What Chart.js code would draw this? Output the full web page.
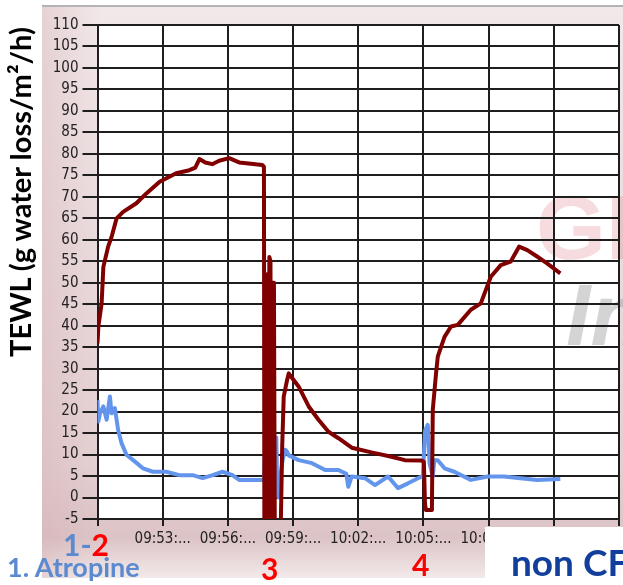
<!DOCTYPE html>
<html>
<head>
<meta charset="utf-8">
<script src="https://cdn.jsdelivr.net/npm/chart.js@4"></script>
<style>
  body { margin: 0; background: #fff; }
  #wrap { position: relative; width: 623px; height: 585px; overflow: hidden; }
  #chart { position: absolute; left: 0; top: 0; }
  .lbl { position: absolute; font-family: Lato, 'Noto Sans', sans-serif; font-weight: bold; white-space: nowrap; }
  #ytitle { left: -180px; top: 177px; width: 400px; height: 30px; line-height: 30px; text-align: center;
            transform: rotate(-90deg); font-size: 29px; color: #000; }
  #whitebox { position: absolute; left: 485px; top: 527px; width: 140px; height: 60px; background: #fff; }
</style>
</head>
<body>
<div id="wrap">
  <canvas id="chart" width="623" height="585"></canvas>
  <div class="lbl" id="ytitle">TEWL (g water loss/m²/h)</div>
  <div class="lbl" style="left:63px; top:526px; font-size:30px; color:#5a8ad0;">1-<span style="color:#ff0000">2</span></div>
  <div class="lbl" style="left:7px; top:550px; font-size:27px; color:#5a8ad0;">1. Atropine</div>
  <div class="lbl" style="left:261px; top:550px; font-size:30px; color:#ff0000;">3</div>
  <div class="lbl" style="left:412px; top:546px; font-size:30px; color:#ff0000;">4</div>
  <div id="whitebox"></div>
  <div class="lbl" style="left:511px; top:539px; font-size:37px; color:#123f9c;">non CF</div>
</div>
<script>
// minutes after 09:50
const redTime = [0, 0.04, 0.19, 0.27, 0.49, 0.65, 0.88, 1.18, 1.79, 2.25, 2.86, 3.62, 4.23, 4.50, 4.69, 4.96, 5.28, 5.60, 6.06,
  6.52, 7.06, 7.58, 7.66,
  7.68, 7.77, 7.80, 7.84, 7.91, 7.96, 8.00, 8.07, 8.12, 8.16, 8.34, 8.44, 8.50, 8.57, 8.71, 8.80, 8.89, 9.26, 9.72, 10.17,
  10.63, 11.09, 11.70, 12.61, 13.53, 14.14, 14.90, 15.02, 15.07, 15.11, 15.39, 15.43, 15.58, 15.66, 15.97, 16.27, 16.58,
  17.18, 17.64, 18.10, 18.56, 19.01, 19.40, 19.78, 20.23, 20.69, 21.30];
const redTewl = [35.9, 39.8, 45.2, 53.7, 58.4, 60.7, 65.0, 66.5, 68.5, 70.8, 73.5, 75.5, 76.2, 76.8, 78.8, 78.0, 77.6, 78.4, 79.0,
  78.0, 77.7, 77.4, 77.0,
  -8, -8, 52, -8, 56, 55, -8, 50, 50, -8, -8, -5, 11.8, 23.5, 27, 28.9, 28.3, 25.8, 21.2, 18.1,
  15.3, 13.8, 11.6, 10.5, 9.5, 8.7, 8.6, 8.3, -1.3, -2.9, -2.9, 20.4, 28.9, 32.8, 37.4, 39.8, 40.2,
  43.7, 45.2, 51.4, 54.1, 54.9, 58.4, 57.6, 56.1, 54.5, 52.2];

const blueTime = [0, 0.04, 0.11, 0.27, 0.42, 0.57, 0.65, 0.80, 0.95, 1.11, 1.34, 1.64, 2.09, 2.55, 3.16, 3.77, 4.38, 4.84, 5.30,
  5.76, 6.21, 6.52, 7.58, 7.66, 7.71, 7.75, 7.82, 7.89, 7.96, 8.00, 8.07, 8.16, 8.23, 8.27, 8.34, 8.44, 8.53, 8.65, 8.72,
  8.80, 9.26, 9.87, 10.48, 11.09, 11.45, 11.54, 11.70, 12.31, 12.77, 13.37, 13.83, 14.29, 14.75, 14.97, 15.08, 15.20, 15.28,
  15.43, 15.50, 15.66, 15.97, 16.42, 17.18, 17.95, 18.71, 19.47, 20.23, 21.30];
const blueTewl = [22.7, 17.7, 19.5, 21.2, 18.1, 23.5, 19.6, 20.8, 15.7, 12.6, 9.9, 8.7, 6.8, 6.0, 6.0, 5.2, 5.2, 4.5, 5.2,
  6.0, 5.2, 4.1, 4.1, 4.1, 10, 4, 12, 22, 18, 10, 5, 4, 14, 1, 0, 6, 9, 11.1, 10.7,
  9.8, 8.7, 8.0, 6.4, 6.4, 5.5, 2.5, 4.9, 4.5, 2.9, 4.9, 2.2, 3.3, 4.5, 4.9, 15.7, 16.9, 8.0,
  4.9, 8.7, 8.7, 6.8, 6.0, 4.1, 4.9, 4.9, 4.5, 4.1, 4.3];

const tickMinutes = [0, 3, 6, 9, 12, 15, 18, 21, 24];
const tickLabels = ['', '09:53:...', '09:56:...', '09:59:...', '10:02:...', '10:05:...', '10:08:...', '10:11:...', ''];

const toPoints = (xs, ys) => xs.map((x, i) => ({ x: x, y: ys[i] }));

const tickFont = { family: "'Liberation Sans Narrow', 'DejaVu Sans Condensed', sans-serif", size: 15 };
const gridColor = '#1e1e1e';

// panel background, white plot area and watermark
const backdrop = {
  id: 'backdrop',
  beforeDraw(chart) {
    const ctx = chart.ctx;
    const a = chart.chartArea;
    ctx.save();
    const g = ctx.createLinearGradient(0, 5, 0, 578);
    g.addColorStop(0, '#f1e8e9');
    g.addColorStop(0.8, '#e4d0d2');
    g.addColorStop(0.93, '#dcc3c6');
    g.addColorStop(1, '#f2eaea');
    ctx.fillStyle = g;
    ctx.fillRect(42, 5, 581, 573);
    const h = ctx.createLinearGradient(42, 0, 100, 0);
    h.addColorStop(0, 'rgba(210,170,175,0.35)');
    h.addColorStop(1, 'rgba(210,170,175,0)');
    ctx.fillStyle = h;
    ctx.fillRect(42, 5, 58, 573);
    ctx.fillStyle = '#b4b4b4';
    ctx.fillRect(42, 5, 581, 2);
    ctx.fillStyle = '#fff';
    ctx.fillRect(a.left, a.top, a.right - a.left, a.bottom - a.top);
    ctx.font = "bold 90px 'Liberation Sans', sans-serif";
    ctx.fillStyle = 'rgba(225,140,145,0.3)';
    ctx.textBaseline = 'alphabetic';
    ctx.fillText('GL', 536, 259);
    ctx.font = "italic bold 88px 'Liberation Sans', sans-serif";
    ctx.fillStyle = 'rgba(160,160,160,0.45)';
    ctx.fillText('In', 566, 345);
    ctx.restore();
  }
};

new Chart(document.getElementById('chart'), {
  type: 'line',
  data: {
    datasets: [
      {
        label: 'non CF',
        data: toPoints(redTime, redTewl),
        borderColor: '#800000',
        borderWidth: 4,
        borderJoinStyle: 'round',
        clip: 0
      },
      {
        label: 'Atropine',
        data: toPoints(blueTime, blueTewl),
        borderColor: '#6495ed',
        borderWidth: 4,
        borderJoinStyle: 'round',
        clip: 0
      }
    ]
  },
  options: {
    responsive: false,
    animation: false,
    parsing: false,
    elements: { point: { radius: 0 }, line: { tension: 0 } },
    layout: { padding: { left: 42, top: 25, right: 1, bottom: 0 } },
    plugins: { legend: { display: false }, tooltip: { enabled: false } },
    scales: {
      x: {
        type: 'linear',
        min: 0,
        max: 24,
        afterBuildTicks: scale => { scale.ticks = tickMinutes.map(v => ({ value: v })); },
        afterFit: scale => { scale.height = 66; },
        ticks: {
          autoSkip: false,
          maxRotation: 0,
          padding: 4,
          color: '#222',
          font: tickFont,
          callback: (value, index) => tickLabels[index]
        },
        grid: { color: gridColor, lineWidth: 2, tickLength: 7 },
        border: { color: gridColor, width: 2 }
      },
      y: {
        min: -5,
        max: 110,
        afterFit: scale => { scale.width = 55.5; },
        ticks: { stepSize: 5, padding: 4, color: '#222', font: tickFont },
        grid: { color: gridColor, lineWidth: 2, tickLength: 15 },
        border: { color: gridColor, width: 2 }
      }
    }
  },
  plugins: [backdrop]
});
</script>
</body>
</html>
